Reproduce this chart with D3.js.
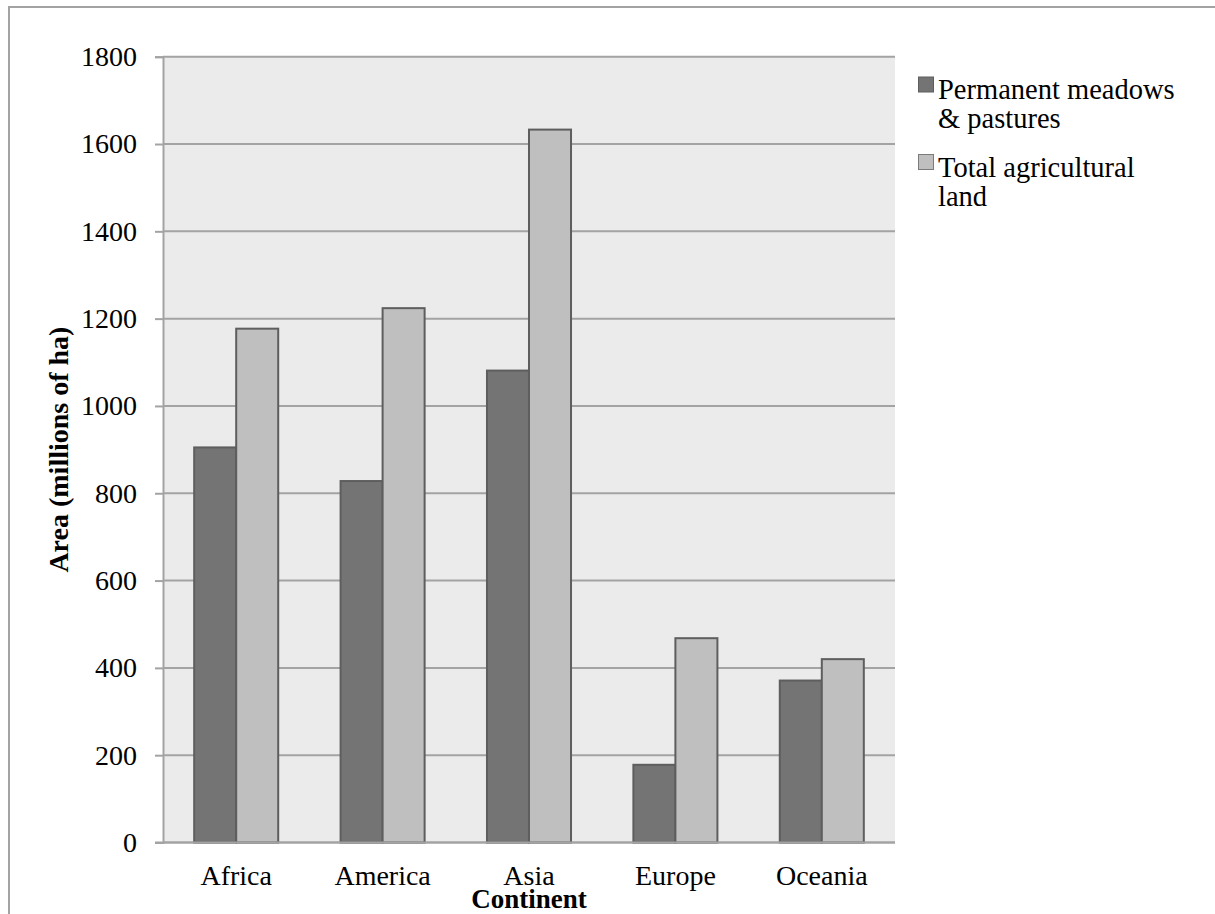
<!DOCTYPE html>
<html>
<head>
<meta charset="utf-8">
<script src="https://cdn.jsdelivr.net/npm/d3@7"></script>
<style>
  html, body { margin: 0; padding: 0; background: #fff; }
  svg { display: block; font-family: "Liberation Serif", "Times New Roman", serif; }
</style>
</head>
<body>
<svg id="chart" width="1215" height="914"></svg>
<script>
// Agricultural land by continent (millions of hectares)
const continents = ["Africa", "America", "Asia", "Europe", "Oceania"];
const seriesNames = ["Permanent meadows & pastures", "Total agricultural land"];
const meadowsPastures = [905, 828, 1081, 178, 371];
const totalAgricultural = [1177, 1224, 1633, 468, 420];
const yTicks = [0, 200, 400, 600, 800, 1000, 1200, 1400, 1600, 1800];
const legendLines = [["Permanent meadows", "& pastures"], ["Total agricultural", "land"]];

const seriesValues = [meadowsPastures, totalAgricultural];
const fills = ["#747474", "#bfbfbf"];
const barStroke = "#5e5e5e";
const gridColor = "#a3a3a3";

const svg = d3.select("#chart");

// outer frame
svg.append("rect")
  .attr("x", 9).attr("y", 7)
  .attr("width", 1240).attr("height", 1000)
  .attr("fill", "none").attr("stroke", "#a3a3a3").attr("stroke-width", 2);

const plot = { left: 163, right: 895, top: 56.7, bottom: 842.5 };

const x = d3.scaleBand()
  .domain(continents)
  .range([plot.left, plot.right])
  .paddingInner(0.426)
  .paddingOuter(0.213);

const xSeries = d3.scaleBand()
  .domain(d3.range(seriesNames.length))
  .range([0, x.bandwidth()]);

const y = d3.scaleLinear()
  .domain([0, 1800])
  .range([plot.bottom, plot.top]);

// plot background
svg.append("rect")
  .attr("x", plot.left).attr("y", plot.top)
  .attr("width", plot.right - plot.left)
  .attr("height", plot.bottom - plot.top)
  .attr("fill", "#ebebeb");

// horizontal gridlines
svg.append("g")
  .selectAll("line")
  .data(yTicks)
  .join("line")
  .attr("x1", plot.left).attr("x2", plot.right)
  .attr("y1", d => y(d)).attr("y2", d => y(d))
  .attr("stroke", gridColor).attr("stroke-width", 2);

// y axis
const yAxis = svg.append("g")
  .attr("transform", `translate(${plot.left},0)`)
  .call(d3.axisLeft(y).tickValues(yTicks).tickSize(8).tickPadding(18).tickFormat(d3.format("d")));
yAxis.select(".domain").attr("stroke", gridColor).attr("stroke-width", 2);
yAxis.selectAll(".tick line").attr("stroke", gridColor).attr("stroke-width", 2);
yAxis.selectAll(".tick text")
  .attr("font-size", 28)
  .attr("font-family", "Liberation Serif")
  .attr("fill", "#000");

// bars
const groups = svg.append("g")
  .selectAll("g")
  .data(continents)
  .join("g")
  .attr("transform", d => `translate(${x(d)},0)`);

groups.selectAll("rect")
  .data((d, i) => seriesValues.map((vals, s) => ({ s, v: vals[i] })))
  .join("rect")
  .attr("x", d => xSeries(d.s))
  .attr("width", xSeries.bandwidth())
  .attr("y", d => y(d.v))
  .attr("height", d => y(0) - y(d.v))
  .attr("fill", d => fills[d.s])
  .attr("stroke", barStroke)
  .attr("stroke-width", 2);

// x axis
const xAxis = svg.append("g")
  .attr("transform", `translate(0,${plot.bottom})`)
  .call(d3.axisBottom(x).tickSize(0));
xAxis.select(".domain").remove();
svg.append("line")
  .attr("x1", plot.left - 8).attr("x2", plot.right)
  .attr("y1", plot.bottom).attr("y2", plot.bottom)
  .attr("stroke", gridColor).attr("stroke-width", 2);
xAxis.selectAll(".tick text")
  .attr("y", 42).attr("dy", null)
  .attr("font-size", 28)
  .attr("font-family", "Liberation Serif")
  .attr("fill", "#000");

// axis titles
svg.append("text")
  .attr("x", (plot.left + plot.right) / 2)
  .attr("y", 908)
  .attr("text-anchor", "middle")
  .attr("font-size", 27)
  .attr("font-weight", "bold")
  .text("Continent");

svg.append("text")
  .attr("transform", `translate(68,${(plot.top + plot.bottom) / 2}) rotate(-90)`)
  .attr("text-anchor", "middle")
  .attr("font-size", 28)
  .attr("font-weight", "bold")
  .text("Area (millions of ha)");

// legend
const legend = svg.append("g").attr("transform", "translate(918,0)");
const legendItems = legend.selectAll("g")
  .data(seriesNames)
  .join("g")
  .attr("transform", (d, i) => `translate(0,${99 + i * 77.5})`);

legendItems.append("rect")
  .attr("x", 0.5).attr("y", -22)
  .attr("width", 15).attr("height", 15)
  .attr("fill", (d, i) => fills[i])
  .attr("stroke", (d, i) => i === 0 ? barStroke : "#7a7a7a")
  .attr("stroke-width", 1);

legendItems.append("text")
  .attr("x", 20)
  .attr("font-size", 28.5)
  .attr("fill", "#000")
  .selectAll("tspan")
  .data((d, i) => legendLines[i])
  .join("tspan")
  .attr("x", 20)
  .attr("dy", (d, j) => j === 0 ? 0 : 29)
  .text(d => d);
</script>
</body>
</html>
